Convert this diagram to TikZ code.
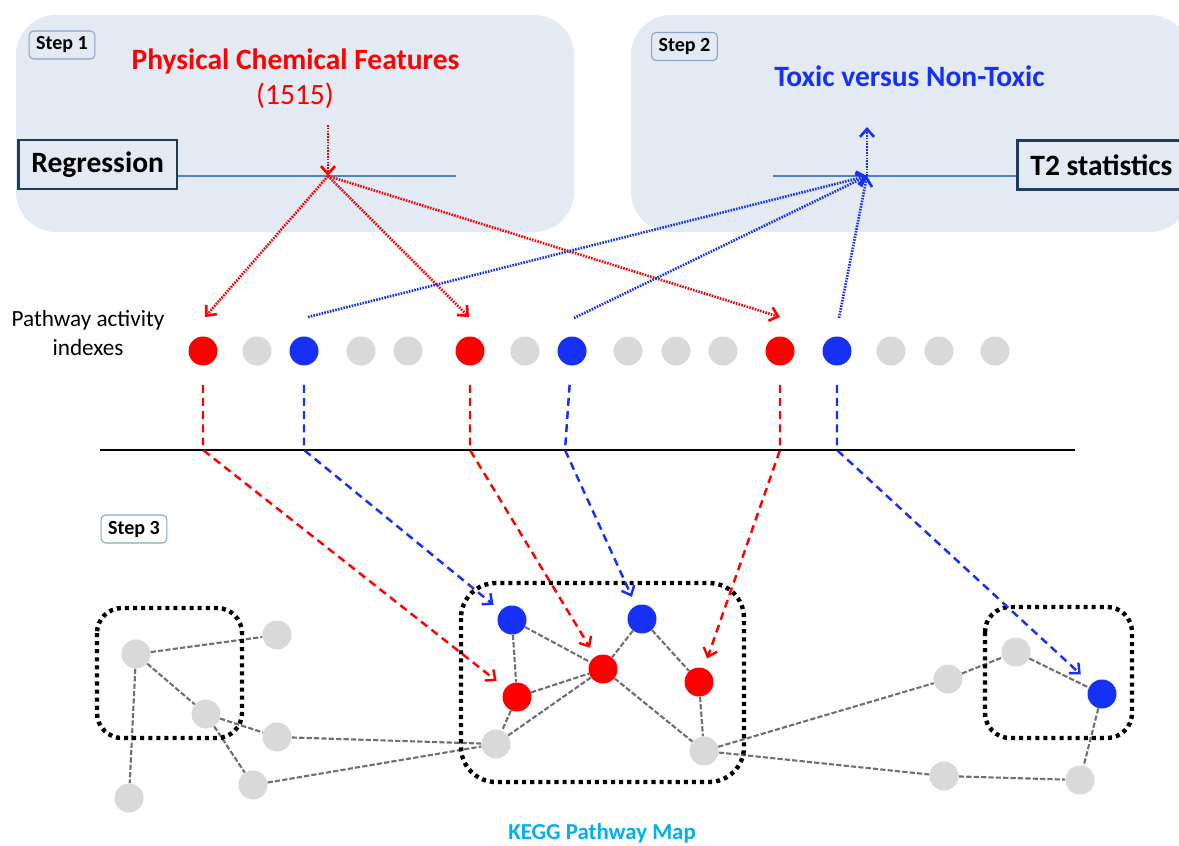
\documentclass[tikz,border=0pt]{standalone}
\usepackage{fontspec}
\setmainfont{Carlito}
\usetikzlibrary{arrows.meta,calc}

\definecolor{boxfill}{HTML}{E4EAF4}
\definecolor{navy}{HTML}{1F3A5F}
\definecolor{lineblue}{HTML}{4F81BD}
\definecolor{tred}{HTML}{FF0000}
\definecolor{tblue}{HTML}{1730F5}
\definecolor{ngray}{HTML}{D9D9D9}
\definecolor{egray}{HTML}{6F6F6F}
\definecolor{kegg}{HTML}{00B0F0}
\definecolor{stepframe}{HTML}{8BA3C4}

\begin{document}
\begin{tikzpicture}[x=0.02cm,y=-0.02cm,
  stepbg/.style={fill=boxfill,rounded corners=0.8cm},
  steplabel/.style={draw=stepframe,fill=boxfill,rounded corners=2.5pt,line width=0.6pt,
    font=\bfseries\fontsize{11.4pt}{13pt}\selectfont,minimum height=0.56cm,inner xsep=4pt,inner ysep=0pt},
  methodbox/.style={draw=navy,line width=1.6pt,fill=boxfill,
    font=\bfseries\fontsize{16.8pt}{20pt}\selectfont,minimum height=0.98cm,inner xsep=0.26cm},
  bigtext/.style={font=\bfseries\fontsize{16.8pt}{20pt}\selectfont},
  axisline/.style={draw=lineblue,line width=1.1pt},
  dot/.style={circle,minimum size=0.58cm,inner sep=0pt},
  rdot/.style={dot,fill=tred},
  bdot/.style={dot,fill=tblue},
  gdot/.style={dot,fill=ngray},
  tip/.style={-{Straight Barb[length=4.5pt,width=8pt]}},
  reddotted/.style={draw=tred,line width=1.5pt,dash pattern=on 0.9pt off 0.7pt},
  bluedotted/.style={draw=tblue,line width=1.5pt,dash pattern=on 0.9pt off 0.7pt},
  reddash/.style={draw=tred,line width=1.4pt,dash pattern=on 4.5pt off 3pt},
  bluedash/.style={draw=tblue,line width=1.4pt,dash pattern=on 4.5pt off 3pt},
  link/.style={draw=egray,line width=1.2pt,dash pattern=on 3pt off 1.2pt},
  groupbox/.style={draw=black,line width=2.5pt,dash pattern=on 2.3pt off 2.3pt}
]
\useasboundingbox (0,0) rectangle (1179,845);
\clip (0,0) rectangle (1179,845);
\fill[white] (0,0) rectangle (1179,845);

% ---------- Step 1 and Step 2 panels ----------
\fill[stepbg] (16,15) rectangle (574,232);
\fill[stepbg] (631,15) rectangle (1190,232);

\node[steplabel] (s1) at (62,45) {Step 1};
\node[steplabel] (s2) at (684.5,46.5) {Step 2};

\node[bigtext,text=tred,anchor=base] (feat) at (295.5,69) {Physical Chemical Features};
\node[font=\fontsize{16.8pt}{20pt}\selectfont,text=tred,anchor=base] (featn) at (295,104) {(1515)};
\node[bigtext,text=tblue,anchor=base] (tox) at (909.5,86) {Toxic versus Non-Toxic};

\node[methodbox,anchor=west] (reg) at (17,164.5) {Regression};
\node[methodbox,anchor=west] (t2) at (1016,165) {T2 statistics};

\coordinate (jr) at (328,176);
\coordinate (jb) at (867,176);
\coordinate (jrtop) at (328,125);
\coordinate (jbtop) at (867,127);
\coordinate (regend) at (456,176);
\coordinate (t2start) at (773,176);

\draw[axisline] (reg.east |- jr) -- (regend);
\draw[axisline] (t2start) -- (t2.west |- jb);

% ---------- pathway activity indexes ----------
\node[font=\fontsize{13.2pt}{17pt}\selectfont,align=center] (pai) at (88,333) {Pathway activity\\indexes};

\node[rdot] (p1) at (203,351) {};
\node[gdot] (p2) at (257,351) {};
\node[bdot] (p3) at (304,351) {};
\node[gdot] (p4) at (361,351) {};
\node[gdot] (p5) at (408,351) {};
\node[rdot] (p6) at (470,351) {};
\node[gdot] (p7) at (525,351) {};
\node[bdot] (p8) at (572,351) {};
\node[gdot] (p9) at (628,351) {};
\node[gdot] (p10) at (676,351) {};
\node[gdot] (p11) at (723,351) {};
\node[rdot] (p12) at (780,351) {};
\node[bdot] (p13) at (837,351) {};
\node[gdot] (p14) at (891,351) {};
\node[gdot] (p15) at (939,351) {};
\node[gdot] (p16) at (995,351) {};

\coordinate (p1a) at ($(p1)+(2,-34)$);
\coordinate (p6a) at ($(p6)+(-1,-34)$);
\coordinate (p12a) at ($(p12)+(0,-34)$);
\coordinate (p3a) at ($(p3)+(4,-34)$);
\coordinate (p8a) at ($(p8)+(2,-33)$);
\coordinate (p13a) at ($(p13)+(2,-33)$);

% regression: features feed the red indexes
\draw[reddotted,tip] (jrtop) -- (jr);
\draw[reddotted,tip] (jr) -- (p1a);
\draw[reddotted,tip] (jr) -- (p6a);
\draw[reddotted,tip] (jr) -- (p12a);

% T2 statistics: blue indexes feed toxicity
\draw[bluedotted,tip] (p3a) -- (jb);
\draw[bluedotted,tip] (p8a) -- (jb);
\draw[bluedotted,tip] (p13a) -- (jb);
\draw[bluedotted,tip] (jb) -- (jbtop);

% separator
\coordinate (hl0) at (100,450);
\coordinate (hl1) at (1075,450);
\draw[line width=1.2pt] (hl0) -- (hl1);

% ---------- Step 3: KEGG pathway map ----------
\node[steplabel,fill=white] (s3) at (134,529) {Step 3};

\node[gdot] (g1) at (136,654) {};
\node[gdot] (g2) at (277,635) {};
\node[gdot] (g3) at (206,714) {};
\node[gdot] (g4) at (277,737) {};
\node[gdot] (g5) at (253,785) {};
\node[gdot] (g6) at (129,798) {};
\node[bdot] (b1) at (512,620) {};
\node[bdot] (b2) at (642,619) {};
\node[rdot] (r1) at (517,697) {};
\node[rdot] (r2) at (603,669) {};
\node[rdot] (r3) at (699,682) {};
\node[gdot] (g7) at (496,744) {};
\node[gdot] (g8) at (704,751) {};
\node[gdot] (g9) at (948,679) {};
\node[gdot] (g10) at (1016,652) {};
\node[bdot] (b3) at (1102,694) {};
\node[gdot] (g11) at (944,776) {};
\node[gdot] (g12) at (1080,780) {};

\draw[link] (g1) -- (g2);
\draw[link] (g1) -- (g3);
\draw[link] (g1) -- (g6);
\draw[link] (g3) -- (g4);
\draw[link] (g3) -- (g5);
\draw[link] (g4) -- (g7);
\draw[link] (g5) -- (g7);
\draw[link] (b1) -- (r1);
\draw[link] (b1) -- (r2);
\draw[link] (r1) -- (r2);
\draw[link] (r1) -- (g7);
\draw[link] (g7) -- (r2);
\draw[link] (b2) -- (r2);
\draw[link] (b2) -- (r3);
\draw[link] (r2) -- (g8);
\draw[link] (r3) -- (g8);
\draw[link] (g8) -- (g9);
\draw[link] (g8) -- (g11);
\draw[link] (g9) -- (g10);
\draw[link] (g10) -- (b3);
\draw[link] (b3) -- (g12);
\draw[link] (g11) -- (g12);

\draw[groupbox,rounded corners=0.5cm] (97,608) rectangle (242,738);
\draw[groupbox,rounded corners=0.7cm] (461,583) rectangle (744,782);
\draw[groupbox,rounded corners=0.5cm] (985,607) rectangle (1132,738);

% mapping of indexes onto the pathway map
\draw[reddash,tip,shorten <=0.38cm,shorten >=0.22cm] (p1) -- (p1 |- hl0) -- (r1);
\draw[bluedash,tip,shorten <=0.38cm,shorten >=0.18cm] (p3) -- (p3 |- hl0) -- (b1);
\draw[reddash,tip,shorten <=0.38cm,shorten >=0.2cm] (p6) -- (p6 |- hl0) -- (r2);
\draw[bluedash,tip,shorten <=0.38cm,shorten >=0.19cm] (p8) -- ($(p8 |- hl0)+(-7,0)$) -- (b2);
\draw[reddash,tip,shorten <=0.38cm,shorten >=0.2cm] (p12) -- (p12 |- hl0) -- (r3);
\draw[bluedash,tip,shorten <=0.38cm,shorten >=0.28cm] (p13) -- (p13 |- hl0) -- (b3);

\node[font=\bfseries\fontsize{13pt}{15pt}\selectfont,text=kegg,anchor=base] (kegg) at (602,839) {KEGG Pathway Map};
\end{tikzpicture}
\end{document}
